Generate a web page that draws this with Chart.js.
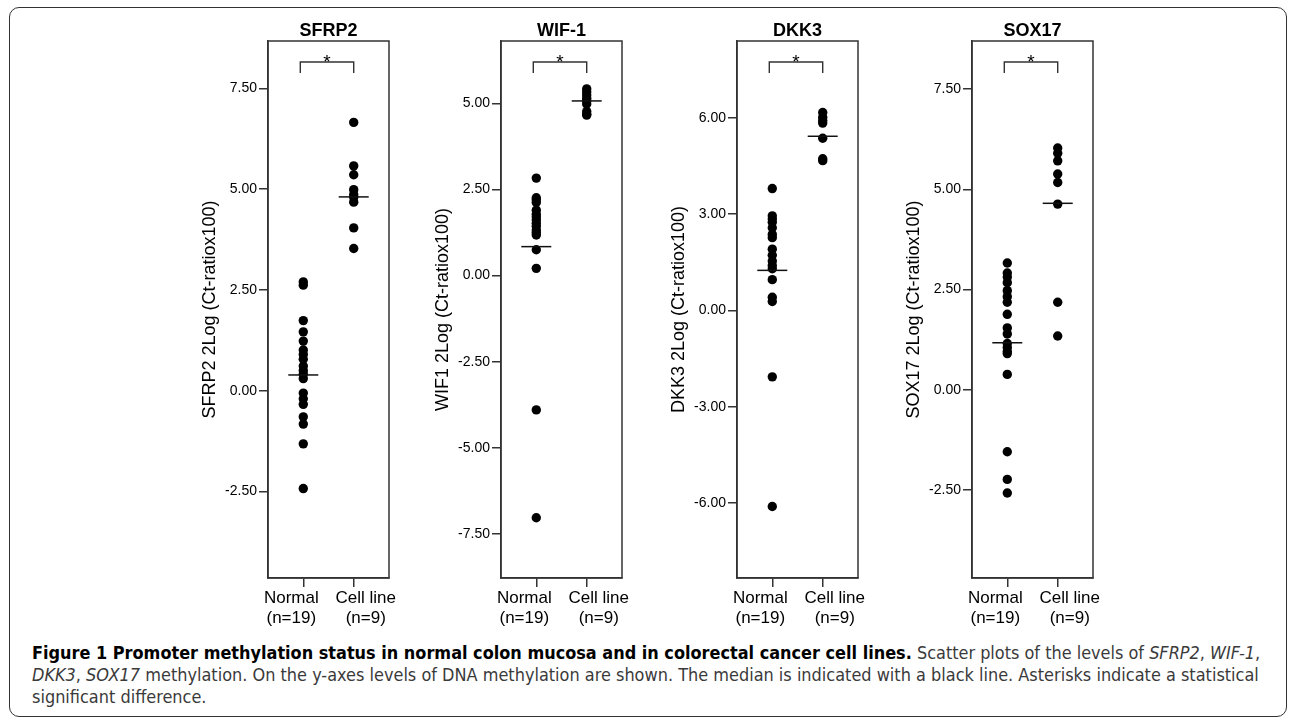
<!DOCTYPE html>
<html>
<head>
<meta charset="utf-8">
<script src="https://cdn.jsdelivr.net/npm/chart.js@4.4.1/dist/chart.umd.min.js"></script>
<style>
  html, body { margin: 0; padding: 0; background: #fff; }
  body { width: 1290px; height: 727px; position: relative; overflow: hidden; font-family: "Liberation Sans", Arial, sans-serif; }
  .frame { position: absolute; left: 9px; top: 7px; width: 1276px; height: 708px; border: 1.5px solid #333; border-radius: 10px; }
  canvas { position: absolute; top: 0; }
  .cap { position: absolute; left: 32px; white-space: nowrap; font-family: "Liberation Sans Narrow", "DejaVu Sans Condensed", "Liberation Sans", sans-serif; font-size: 18.5px; color: #3a3a3a; transform-origin: 0 50%; line-height: 22px; }
  .cap b { color: #000; }
</style>
</head>
<body>
<div class="frame"></div>
<canvas id="c0" width="201" height="640" style="left:196px"></canvas>
<canvas id="c1" width="201" height="640" style="left:429px"></canvas>
<canvas id="c2" width="201" height="640" style="left:665px"></canvas>
<canvas id="c3" width="201" height="640" style="left:900px"></canvas>

<div class="cap" id="l1" style="top:642px"><b>Figure 1 Promoter methylation status in normal colon mucosa and in colorectal cancer cell lines.</b> Scatter plots of the levels of <i>SFRP2</i>, <i>WIF-1</i>,</div>
<div class="cap" id="l2" style="top:664px"><i>DKK3</i>, <i>SOX17</i> methylation. On the y-axes levels of DNA methylation are shown. The median is indicated with a black line. Asterisks indicate a statistical</div>
<div class="cap" id="l3" style="top:686px">significant difference.</div>

<script>
// groepen op de x-as
const groups = ['Normal', 'Cell line'];
const groupCounts = ['(n=19)', '(n=9)'];
const panelTitles = ['SFRP2', 'WIF-1', 'DKK3', 'SOX17'];
const axisTitles = ['SFRP2 2Log (Ct-ratiox100)', 'WIF1 2Log (Ct-ratiox100)', 'DKK3 2Log (Ct-ratiox100)', 'SOX17 2Log (Ct-ratiox100)'];

// methylatie waarden
const sfrp2Normal = [2.70, 2.62, 1.74, 1.46, 1.23, 1.01, 0.90, 0.78, 0.61, 0.50, 0.41, 0.30, -0.06, -0.20, -0.34, -0.65, -0.83, -1.32, -2.43];
const sfrp2Cell = [6.66, 5.58, 5.36, 4.99, 4.87, 4.80, 4.68, 4.04, 3.53];
const wif1Normal = [2.83, 2.26, 2.20, 2.12, 1.90, 1.78, 1.70, 1.61, 1.52, 1.43, 1.32, 1.25, 1.18, 0.75, 0.21, -3.90, -7.03];
const wif1Cell = [5.42, 5.33, 5.24, 5.15, 5.07, 4.98, 4.76, 4.68, 4.66];
const dkk3Normal = [3.80, 2.95, 2.85, 2.75, 2.58, 2.37, 2.27, 1.91, 1.72, 1.54, 1.40, 1.30, 0.96, 0.41, 0.28, -2.07, -6.11];
const dkk3Cell = [6.17, 6.02, 5.92, 5.84, 5.37, 4.73, 4.67];
const sox17Normal = [3.16, 2.91, 2.81, 2.67, 2.47, 2.32, 2.18, 1.88, 1.54, 1.39, 1.15, 1.05, 0.95, 0.90, 0.38, -1.55, -2.24, -2.58];
const sox17Cell = [6.03, 5.90, 5.71, 5.38, 5.17, 4.63, 2.18, 1.34];

// medianen (zwarte lijn)
const sfrp2Median = [0.39, 4.81];
const wif1Median = [0.84, 5.07];
const dkk3Median = [1.25, 5.43];
const sox17Median = [1.17, 4.65];

// y-as ticks en bereik
const sfrp2Ticks = [-2.5, 0, 2.5, 5, 7.5];
const wif1Ticks = [-7.5, -5, -2.5, 0, 2.5, 5];
const dkk3Ticks = [-6, -3, 0, 3, 6];
const sox17Ticks = [-2.5, 0, 2.5, 5, 7.5];
const sfrp2Range = [-4.65, 8.68];
const wif1Range = [-8.78, 6.81];
const dkk3Range = [-8.34, 8.40];
const sox17Range = [-4.70, 8.70];

const FONT = '"Liberation Sans", Arial, sans-serif';
const INK = '#333';

const panelPlugin = {
    id: 'panel',
    afterDraw(chart, args, opts) {
        const { ctx, chartArea: a, scales: { x, y } } = chart;
        ctx.save();
        ctx.strokeStyle = INK;
        ctx.lineWidth = 1.5;
        ctx.strokeRect(a.left, a.top, a.right - a.left, a.bottom - a.top);

        // titel boven het paneel
        ctx.fillStyle = '#000';
        ctx.font = 'bold 18px ' + FONT;
        ctx.textAlign = 'center';
        ctx.textBaseline = 'bottom';
        ctx.fillText(opts.title, (a.left + a.right) / 2, a.top - 1);

        // significantie haak met sterretje
        const x0 = x.getPixelForValue(0) - 3;
        const x1 = x.getPixelForValue(1);
        ctx.lineWidth = 1.4;
        ctx.beginPath();
        ctx.moveTo(x0, a.top + 32);
        ctx.lineTo(x0, a.top + 21);
        ctx.lineTo(x1, a.top + 21);
        ctx.lineTo(x1, a.top + 32);
        ctx.stroke();
        ctx.font = '19px ' + FONT;
        ctx.textBaseline = 'alphabetic';
        ctx.fillText('*', (x0 + x1) / 2, a.top + 27);

        // groepslabels onder de as, iets uit elkaar geschoven
        ctx.font = '17px ' + FONT;
        ctx.textBaseline = 'middle';
        groups.forEach((g, i) => {
            const px = x.getPixelForValue(i) + (i === 0 ? -12 : 12);
            ctx.fillText(g, px, a.bottom + 20);
            ctx.fillText(groupCounts[i], px, a.bottom + 40);
        });

        // mediaan lijnen
        ctx.strokeStyle = '#111';
        ctx.lineWidth = 1.5;
        opts.medians.forEach((m, i) => {
            const px = x.getPixelForValue(i);
            const py = y.getPixelForValue(m);
            ctx.beginPath();
            ctx.moveTo(px - 15, py);
            ctx.lineTo(px + 15, py);
            ctx.stroke();
        });
        ctx.restore();
    }
};

function toPoints(values, group) {
    return values.map(v => ({ x: group, y: v }));
}

function makePanel(id, idx, normal, cell, medians, ticks, range) {
    const ctx = document.getElementById(id).getContext('2d');
    return new Chart(ctx, {
        type: 'scatter',
        data: {
            datasets: [
                { label: groups[0], data: toPoints(normal, 0) },
                { label: groups[1], data: toPoints(cell, 1) }
            ]
        },
        options: {
            responsive: false,
            animation: false,
            devicePixelRatio: 1,
            layout: { padding: { top: 41, right: 8, bottom: 0, left: 0 } },
            elements: {
                point: { radius: 4.7, backgroundColor: '#000', borderWidth: 0, hoverRadius: 4.7 }
            },
            plugins: {
                legend: { display: false },
                tooltip: { enabled: false },
                panel: { title: panelTitles[idx], medians: medians }
            },
            scales: {
                x: {
                    type: 'linear',
                    min: -0.7,
                    max: 1.7,
                    afterBuildTicks: s => { s.ticks = [{ value: 0 }, { value: 1 }]; },
                    afterFit: s => { s.height = 62; },
                    ticks: { display: false },
                    grid: { drawOnChartArea: false, drawTicks: true, tickLength: 9, color: INK, lineWidth: 1.5 },
                    border: { display: true, color: INK, width: 1.5 }
                },
                y: {
                    min: range[0],
                    max: range[1],
                    afterBuildTicks: s => { s.ticks = ticks.map(v => ({ value: v })); },
                    afterFit: s => { s.width = 72; },
                    ticks: {
                        padding: 2,
                        color: '#000',
                        font: { family: FONT, size: 14 },
                        callback: v => v.toFixed(2)
                    },
                    grid: { drawOnChartArea: false, drawTicks: true, tickLength: 9, color: INK, lineWidth: 1.5 },
                    border: { display: true, color: INK, width: 1.5 },
                    title: {
                        display: true,
                        text: axisTitles[idx],
                        color: '#000',
                        font: { family: FONT, size: 18 },
                        padding: { top: 3, bottom: 0 }
                    }
                }
            }
        },
        plugins: [panelPlugin]
    });
}

makePanel('c0', 0, sfrp2Normal, sfrp2Cell, sfrp2Median, sfrp2Ticks, sfrp2Range);
makePanel('c1', 1, wif1Normal, wif1Cell, wif1Median, wif1Ticks, wif1Range);
makePanel('c2', 2, dkk3Normal, dkk3Cell, dkk3Median, dkk3Ticks, dkk3Range);
makePanel('c3', 3, sox17Normal, sox17Cell, sox17Median, sox17Ticks, sox17Range);

// bijschrift op breedte brengen
const l1 = document.getElementById('l1');
const l2 = document.getElementById('l2');
const l3 = document.getElementById('l3');
const s1 = 1228 / l1.scrollWidth;
const s2 = 1227 / l2.scrollWidth;
l1.style.transform = 'scaleX(' + s1 + ')';
l2.style.transform = 'scaleX(' + s2 + ')';
l3.style.transform = 'scaleX(' + s2 + ')';
</script>
</body>
</html>
